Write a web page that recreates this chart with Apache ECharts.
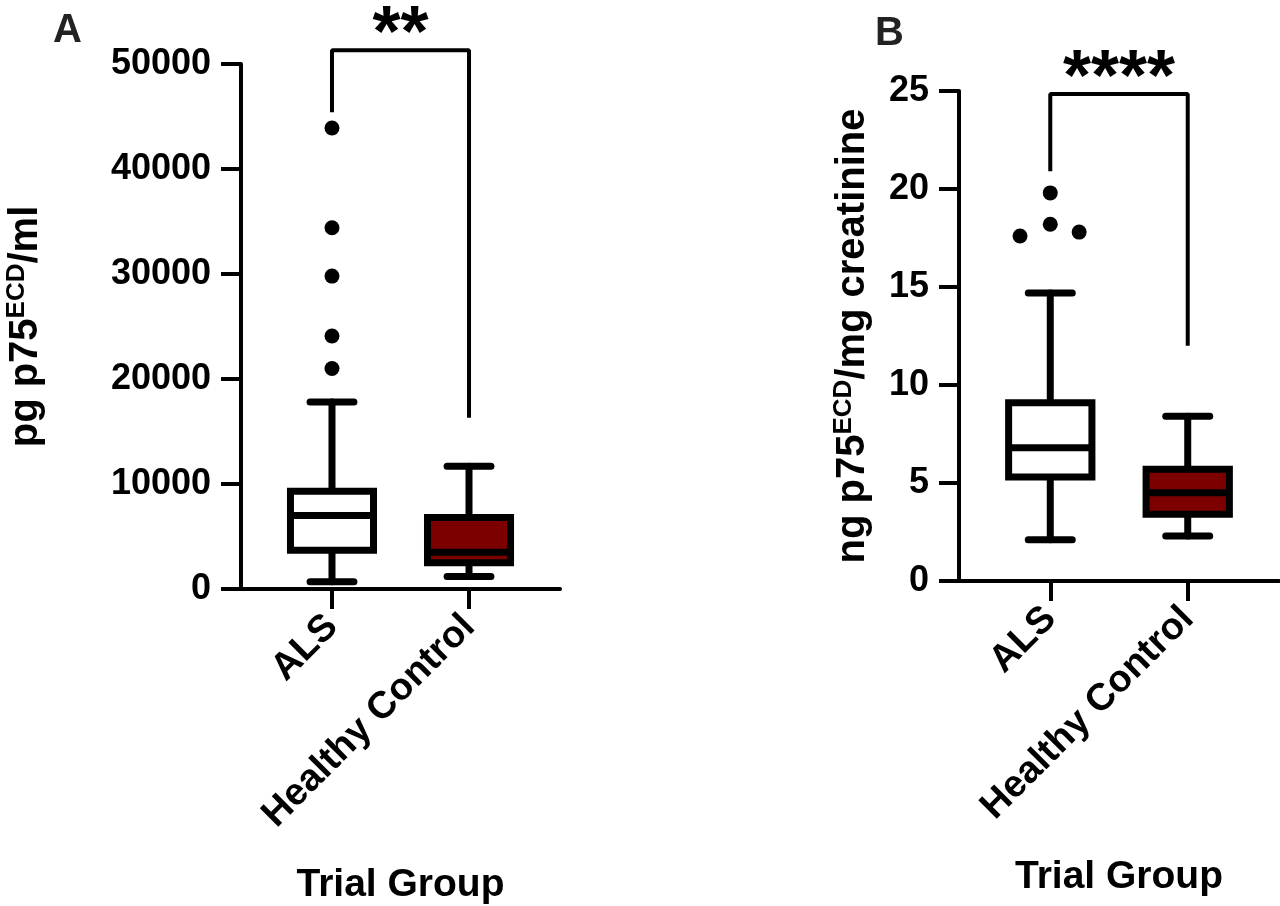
<!DOCTYPE html>
<html>
<head>
<meta charset="utf-8">
<title>p75ECD box plots</title>
<script src="https://cdn.jsdelivr.net/npm/echarts@6/dist/echarts.min.js"></script>
<style>
  html, body { margin: 0; padding: 0; background: #fff; }
  #chart { width: 1280px; height: 906px; }
</style>
</head>
<body>
<div id="chart"></div>
<script>
// groups on the x axis
const GROUPS = ['ALS', 'Healthy Control'];

// panel A, pg p75ECD/ml : [min, Q1, median, Q3, max]
const A_ALS = [700, 3700, 7000, 9300, 17800];
const A_HC = [1200, 2500, 3500, 6800, 11700];
const A_ALS_OUTLIERS = [21000, 24100, 29800, 34400, 43900];
// bracket: left leg end, top, right leg end
const A_BRACKET = [45400, 51300, 16300];
const A_SIG = '**';

// panel B, ng p75ECD/mg creatinine
const B_ALS = [2.1, 5.3, 6.8, 9.1, 14.7];
const B_HC = [2.3, 3.4, 4.5, 5.7, 8.4];
const B_ALS_OUTLIERS = [17.6, 18.2, 17.8, 19.8];
const B_ALS_JITTER = [-0.22, 0, 0.21, 0];
const B_BRACKET = [20.9, 24.85, 12.0];
const B_SIG = '****';

const FONT = 'Liberation Sans, Arial, Helvetica, sans-serif';
const FILLS = ['#ffffff', '#7d0000'];
const LW = 7;
const BOX_HALF = 0.303;
const CAP_HALF = 0.16;

const chart = echarts.init(document.getElementById('chart'));

function renderBox(params, api) {
  const x = api.value(0);
  const lo = api.coord([x, api.value(1)]);
  const q1 = api.coord([x, api.value(2)]);
  const md = api.coord([x, api.value(3)]);
  const q3 = api.coord([x, api.value(4)]);
  const hi = api.coord([x, api.value(5)]);
  const half = api.size([BOX_HALF, 0])[0];
  const cap = api.size([CAP_HALF, 0])[0];
  const cx = lo[0];
  const seg = (x1, y1, x2, y2, capStyle) => ({
    type: 'line',
    shape: { x1: x1, y1: y1, x2: x2, y2: y2 },
    style: { stroke: '#000', lineWidth: LW, lineCap: capStyle || 'round' }
  });
  return {
    type: 'group',
    children: [
      seg(cx, hi[1], cx, q3[1]),
      seg(cx, q1[1], cx, lo[1]),
      seg(cx - cap, hi[1], cx + cap, hi[1]),
      seg(cx - cap, lo[1], cx + cap, lo[1]),
      {
        type: 'rect',
        shape: { x: cx - half, y: q3[1], width: 2 * half, height: q1[1] - q3[1] },
        style: { fill: FILLS[params.dataIndex], stroke: '#000', lineWidth: LW }
      },
      seg(cx - half, md[1], cx + half, md[1], 'butt')
    ]
  };
}

function xAxisOpt(idx) {
  return {
    type: 'value',
    gridIndex: idx,
    min: -0.664,
    max: 1.664,
    splitLine: { show: false },
    axisLine: { onZero: false, lineStyle: { color: '#000', width: 4 } },
    axisTick: { customValues: [0, 1], length: 20, lineStyle: { color: '#000', width: 4 } },
    axisLabel: {
      customValues: [0, 1],
      formatter: v => GROUPS[Math.round(v)],
      rotate: 45,
      margin: 32,
      fontSize: 38,
      fontWeight: 'bold',
      fontFamily: FONT,
      color: '#000'
    },
    name: 'Trial Group',
    nameLocation: 'middle',
    nameGap: 277,
    nameTextStyle: { fontSize: 39, fontWeight: 'bold', fontFamily: FONT, color: '#000' }
  };
}

function yAxisOpt(idx, max, interval, name, gap) {
  return {
    type: 'value',
    gridIndex: idx,
    min: 0,
    max: max,
    interval: interval,
    splitLine: { show: false },
    axisLine: { show: true, onZero: false, lineStyle: { color: '#000', width: 4 } },
    axisTick: { show: true, length: 20, lineStyle: { color: '#000', width: 4 } },
    axisLabel: {
      margin: 30, fontSize: 36, fontWeight: 'bold', fontFamily: FONT, color: '#000',
      formatter: v => String(v)
    },
    name: name,
    nameLocation: 'middle',
    nameRotate: 90,
    nameGap: gap,
    nameTextStyle: {
      fontSize: 40, fontWeight: 'bold', fontFamily: FONT, color: '#000', lineHeight: 44,
      rich: {
        sup: { fontSize: 26, fontWeight: 'bold', fontFamily: FONT, color: '#000', verticalAlign: 'top', lineHeight: 44 }
      }
    }
  };
}

function panelSeries(idx, als, hc, outliers, jitter, bracket, sig) {
  return [
    {
      type: 'custom',
      xAxisIndex: idx,
      yAxisIndex: idx,
      renderItem: renderBox,
      clip: false,
      encode: { x: 0, y: [1, 2, 3, 4, 5] },
      data: [[0].concat(als), [1].concat(hc)],
      z: 3
    },
    {
      type: 'scatter',
      xAxisIndex: idx,
      yAxisIndex: idx,
      symbolSize: 15,
      itemStyle: { color: '#000', opacity: 1 },
      data: outliers.map((v, i) => [jitter ? jitter[i] : 0, v]),
      z: 4
    },
    {
      type: 'line',
      xAxisIndex: idx,
      yAxisIndex: idx,
      clip: false,
      symbol: 'none',
      lineStyle: { color: '#000', width: 4 },
      data: [[0, bracket[0]], [0, bracket[1]], [1, bracket[1]], [1, bracket[2]]],
      z: 2
    },
    {
      type: 'scatter',
      xAxisIndex: idx,
      yAxisIndex: idx,
      clip: false,
      symbolSize: 0,
      itemStyle: { color: '#000', opacity: 1 },
      data: [[0.5, bracket[1]]],
      label: {
        show: true,
        position: 'top',
        distance: -22,
        formatter: sig,
        fontSize: 72,
        fontWeight: 'bold',
        fontFamily: FONT,
        color: '#000',
        opacity: 1
      }
    }
  ];
}

chart.setOption({
  animation: false,
  backgroundColor: '#fff',
  title: [
    { text: 'A', left: 53, top: 11, padding: 0, textStyle: { fontSize: 40, fontWeight: 'bold', fontFamily: FONT, color: '#222' } },
    { text: 'B', left: 875, top: 14, padding: 0, textStyle: { fontSize: 40, fontWeight: 'bold', fontFamily: FONT, color: '#222' } }
  ],
  grid: [
    { left: 241, right: 720, top: 64, bottom: 317, outerBoundsMode: 'none' },
    { left: 959, right: 1, top: 91, bottom: 325, outerBoundsMode: 'none' }
  ],
  xAxis: [xAxisOpt(0), xAxisOpt(1)],
  yAxis: [
    yAxisOpt(0, 50000, 10000, 'pg p75{sup|ECD}/ml', 193),
    yAxisOpt(1, 25, 5, 'ng p75{sup|ECD}/mg creatinine', 84)
  ],
  series: []
    .concat(panelSeries(0, A_ALS, A_HC, A_ALS_OUTLIERS, null, A_BRACKET, A_SIG))
    .concat(panelSeries(1, B_ALS, B_HC, B_ALS_OUTLIERS, B_ALS_JITTER, B_BRACKET, B_SIG))
});
</script>
</body>
</html>
